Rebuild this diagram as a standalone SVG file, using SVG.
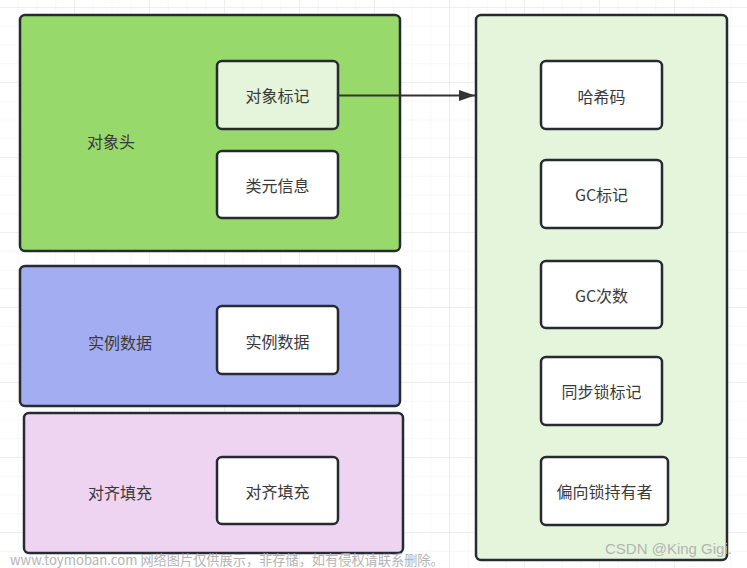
<svg xmlns="http://www.w3.org/2000/svg" width="747" height="568" viewBox="0 0 747 568">
<defs>
<pattern id="minor" x="0" y="8" width="18.75" height="18.75" patternUnits="userSpaceOnUse">
<path d="M18.75 0V18.75M0 18.75H18.75" fill="none" stroke="#f0f0f0" stroke-width="1"/>
</pattern>
<pattern id="major" x="0" y="8" width="75" height="75" patternUnits="userSpaceOnUse">
<path d="M75 0V75M0 75H75" fill="none" stroke="#e5e5e5" stroke-width="1"/>
</pattern>
<marker id="arrow" markerWidth="16" markerHeight="12" refX="16" refY="6" orient="auto" markerUnits="userSpaceOnUse">
<path d="M0 0.5L16 6L0 11.5Z" fill="#333"/>
</marker>
</defs>
<style>
.box{stroke:#262b31;stroke-width:2.5}
.t{font-family:"Noto Sans CJK SC","Noto Sans",sans-serif;font-size:16px;fill:#3a3a3a;text-anchor:middle;dominant-baseline:central}
.wm{fill:#b4b4b4}
</style>
<rect width="747" height="568" fill="#fff"/>
<rect width="747" height="568" fill="url(#minor)"/>
<rect width="747" height="568" fill="url(#major)"/>

<g id="header">
<rect class="box" x="20" y="15" width="380" height="236" rx="5" fill="#98d96b"/>
<text class="t" x="111" y="141">对象头</text>
</g>
<g id="mark">
<rect class="box" x="217" y="61" width="121" height="68" rx="5" fill="#e4f5db"/>
<text class="t" x="277.5" y="95">对象标记</text>
</g>
<g id="classinfo">
<rect class="box" x="217" y="151" width="121" height="67" rx="5" fill="#fff"/>
<text class="t" x="277.5" y="184.5">类元信息</text>
</g>

<g id="instance">
<rect class="box" x="20" y="266" width="380" height="140" rx="5" fill="#a3aef2"/>
<text class="t" x="120" y="342">实例数据</text>
</g>
<g id="instance-inner">
<rect class="box" x="217" y="306" width="121" height="68" rx="5" fill="#fff"/>
<text class="t" x="277.5" y="341">实例数据</text>
</g>

<g id="padding">
<rect class="box" x="24" y="413" width="379" height="140" rx="5" fill="#efd4f1"/>
<text class="t" x="120" y="492">对齐填充</text>
</g>
<g id="padding-inner">
<rect class="box" x="217" y="457" width="121" height="67" rx="5" fill="#fff"/>
<text class="t" x="277.5" y="491">对齐填充</text>
</g>

<g id="markword">
<rect class="box" x="476" y="15" width="251" height="545" rx="5" fill="#e4f5db"/>
</g>
<g id="hash">
<rect class="box" x="541" y="61" width="121" height="68" rx="5" fill="#fff"/>
<text class="t" x="601.5" y="96">哈希码</text>
</g>
<g id="gcmark">
<rect class="box" x="541" y="160" width="121" height="68" rx="5" fill="#fff"/>
<text class="t" x="601.5" y="194">GC标记</text>
</g>
<g id="gccount">
<rect class="box" x="541" y="261" width="121" height="67" rx="5" fill="#fff"/>
<text class="t" x="601.5" y="295">GC次数</text>
</g>
<g id="lock">
<rect class="box" x="541" y="357" width="121" height="68" rx="5" fill="#fff"/>
<text class="t" x="601.5" y="391">同步锁标记</text>
</g>
<g id="biased">
<rect class="box" x="541" y="457" width="127" height="68" rx="5" fill="#fff"/>
<text class="t" x="604.5" y="491">偏向锁持有者</text>
</g>

<g id="connectors">
<line x1="338" y1="95.5" x2="475" y2="95.5" stroke="#333" stroke-width="2" marker-end="url(#arrow)"/>
</g>

<text class="wm" x="10" y="565" font-size="13.2" font-family="'Noto Sans CJK SC','Noto Sans',sans-serif">www.toymoban.com 网络图片仅供展示，非存储，如有侵权请联系删除。</text>
<text class="wm" x="605" y="554" font-size="15" font-family="'Liberation Sans',sans-serif">CSDN @King Gigi.</text>
</svg>
